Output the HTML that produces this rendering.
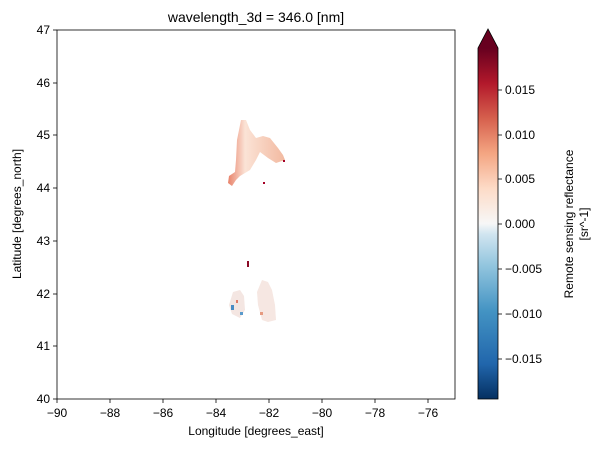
<!DOCTYPE html><html><head><style>body{margin:0;background:#fff}svg{font-family:"Liberation Sans",sans-serif}</style></head><body>
<svg width="604" height="453" viewBox="0 0 604 453" xmlns="http://www.w3.org/2000/svg">
<defs>
<linearGradient id="cb" x1="0" y1="1" x2="0" y2="0">
<stop offset="0" stop-color="#053061"/><stop offset="0.1" stop-color="#2166ac"/><stop offset="0.25" stop-color="#4393c3"/><stop offset="0.38" stop-color="#92c5de"/><stop offset="0.47" stop-color="#d1e5f0"/><stop offset="0.5" stop-color="#f7f7f7"/><stop offset="0.6" stop-color="#fddbc7"/><stop offset="0.7" stop-color="#f4a582"/><stop offset="0.8" stop-color="#d6604d"/><stop offset="0.9" stop-color="#b2182b"/><stop offset="1" stop-color="#67001f"/>
</linearGradient>
<linearGradient id="bl" x1="0" y1="0" x2="1" y2="0"><stop offset="0" stop-color="#e8826a"/><stop offset="0.3" stop-color="#fbe3d6"/><stop offset="1" stop-color="#f2b9a0"/></linearGradient>
</defs>
<rect x="57" y="30" width="398" height="369" fill="#fff" stroke="#000" stroke-width="0.8"/>
<!-- upper blob -->
<polygon points="241,120 246,120 250,130 256,138 263,136 270,138 278,148 283,155 285,160 276,163 268,158 260,152 256,160 250,170 245,173 240,176 236,180 232,186 228,183 229,176 235,172 236,160 237,140" fill="url(#bl)"/>
<rect x="263" y="182" width="2" height="2" fill="#a50026"/>
<rect x="283" y="160" width="2" height="2" fill="#a50026"/>
<!-- lower blob -->
<rect x="247" y="261" width="2" height="6" fill="#8b0a26"/>
<polygon points="233,292 240,290 244,296 245,310 240,318 232,314 229,305" fill="#f4e6e2"/>
<polygon points="262,280 268,282 272,290 275,305 276,320 268,322 262,320 258,305 257,292" fill="#f6e7e2"/>
<rect x="231" y="305" width="3" height="5" fill="#4a8cc4"/><rect x="236" y="300" width="2" height="3" fill="#e07b66"/><rect x="240" y="312" width="3" height="3" fill="#5a9bcc"/><rect x="260" y="312" width="3" height="3" fill="#e69a80"/>
<!-- x ticks -->
<g font-size="12" text-anchor="middle" fill="#000">
<g stroke="#000" stroke-width="0.8">
<line x1="57" y1="399" x2="57" y2="403"/><line x1="110" y1="399" x2="110" y2="403"/><line x1="163" y1="399" x2="163" y2="403"/><line x1="216" y1="399" x2="216" y2="403"/><line x1="269" y1="399" x2="269" y2="403"/><line x1="322" y1="399" x2="322" y2="403"/><line x1="375" y1="399" x2="375" y2="403"/><line x1="428" y1="399" x2="428" y2="403"/>
<line x1="53" y1="30" x2="57" y2="30"/><line x1="53" y1="83" x2="57" y2="83"/><line x1="53" y1="135" x2="57" y2="135"/><line x1="53" y1="188" x2="57" y2="188"/><line x1="53" y1="241" x2="57" y2="241"/><line x1="53" y1="294" x2="57" y2="294"/><line x1="53" y1="346" x2="57" y2="346"/><line x1="53" y1="399" x2="57" y2="399"/>
</g>
<text x="57" y="417">−90</text><text x="110" y="417">−88</text><text x="163" y="417">−86</text><text x="216" y="417">−84</text><text x="269" y="417">−82</text><text x="322" y="417">−80</text><text x="375" y="417">−78</text><text x="428" y="417">−76</text>
<g text-anchor="end"><text x="50" y="34">47</text><text x="50" y="87">46</text><text x="50" y="139">45</text><text x="50" y="192">44</text><text x="50" y="245">43</text><text x="50" y="298">42</text><text x="50" y="350">41</text><text x="50" y="403">40</text></g>
<text x="256" y="435">Longitude [degrees_east]</text>
<text transform="translate(21,214) rotate(-90)">Latitude [degrees_north]</text>
<text x="256" y="22" font-size="14">wavelength_3d = 346.0 [nm]</text>
</g>
<!-- colorbar -->
<rect x="478" y="48" width="20" height="351" fill="url(#cb)"/>
<polygon points="478,48 488,29 498,48" fill="#67001f"/>
<polygon points="478,48 488,29 498,48 498,399 478,399" fill="none" stroke="#000" stroke-width="0.8"/>
<g stroke="#000" stroke-width="0.8"><line x1="498" y1="90" x2="502" y2="90"/><line x1="498" y1="135" x2="502" y2="135"/><line x1="498" y1="179" x2="502" y2="179"/><line x1="498" y1="224" x2="502" y2="224"/><line x1="498" y1="269" x2="502" y2="269"/><line x1="498" y1="314" x2="502" y2="314"/><line x1="498" y1="359" x2="502" y2="359"/></g>
<g font-size="12"><text x="505" y="94">0.015</text><text x="505" y="139">0.010</text><text x="505" y="183">0.005</text><text x="505" y="228">0.000</text><text x="505" y="273">−0.005</text><text x="505" y="318">−0.010</text><text x="505" y="363">−0.015</text>
<text transform="translate(573,224) rotate(-90)" text-anchor="middle">Remote sensing reflectance</text>
<text transform="translate(588,224) rotate(-90)" text-anchor="middle">[sr^-1]</text></g>
</svg></body></html>
